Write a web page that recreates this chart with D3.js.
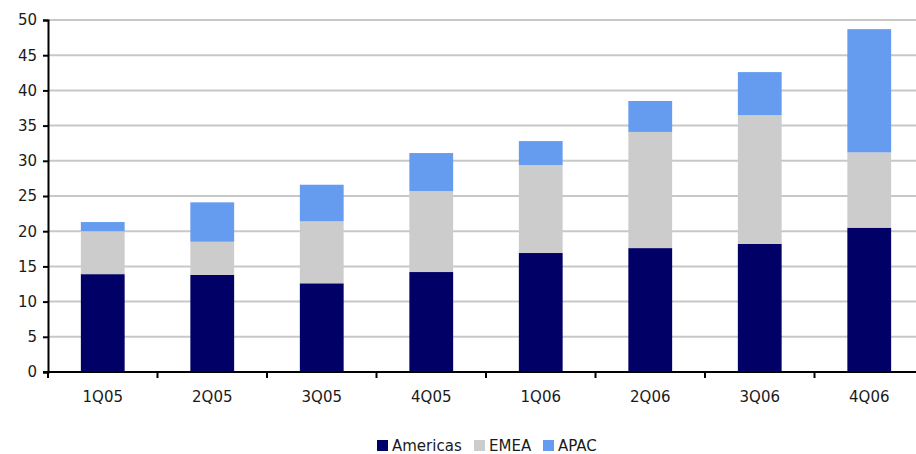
<!DOCTYPE html>
<html>
<head>
<meta charset="utf-8">
<script src="https://cdn.jsdelivr.net/npm/d3@7"></script>
<style>
  body { margin: 0; background: #fff; }
  svg { display: block; font-family: "DejaVu Sans", Verdana, sans-serif; }
</style>
</head>
<body>
<svg id="chart" width="916" height="454"></svg>
<script>
// Quarterly revenue by region (stacked)
const quarters = ["1Q05", "2Q05", "3Q05", "4Q05", "1Q06", "2Q06", "3Q06", "4Q06"];
const americas = [13.9, 13.8, 12.6, 14.2, 16.9, 17.6, 18.2, 20.5];
const emea     = [6.1, 4.7, 8.8, 11.5, 12.5, 16.5, 18.3, 10.7];
const apac     = [1.3, 5.6, 5.2, 5.4, 3.4, 4.4, 6.1, 17.5];
const seriesNames = ["Americas", "EMEA", "APAC"];
const seriesColors = ["#000066", "#cccccc", "#659cef"];
const yTicks = [0, 5, 10, 15, 20, 25, 30, 35, 40, 45, 50];

const rows = quarters.map((q, i) => ({ q, Americas: americas[i], EMEA: emea[i], APAC: apac[i] }));
const stacked = d3.stack().keys(seriesNames)(rows);

const svg = d3.select("#chart");
const margin = { left: 48, top: 20, right: 924, bottom: 372 };
const fontSize = 15;
const textColor = "#1a1a1a";

const x = d3.scaleBand().domain(quarters).range([margin.left, margin.right]).paddingInner(0.6).paddingOuter(0.3);
const y = d3.scaleLinear().domain([0, 50]).range([margin.bottom, margin.top]);

// gridlines
svg.append("g").selectAll("line").data(yTicks.filter(t => t > 0)).join("line")
  .attr("x1", margin.left).attr("x2", margin.right)
  .attr("y1", d => y(d)).attr("y2", d => y(d))
  .attr("stroke", "#c8c8c8").attr("stroke-width", 2);

// bars
const color = d3.scaleOrdinal().domain(seriesNames).range(seriesColors);
svg.append("g").selectAll("g").data(stacked).join("g")
  .attr("fill", d => color(d.key))
  .selectAll("rect").data(d => d).join("rect")
  .attr("x", d => x(d.data.q))
  .attr("width", x.bandwidth())
  .attr("y", d => y(d[1]))
  .attr("height", d => y(d[0]) - y(d[1]));

// y axis
const yAxis = svg.append("g").attr("transform", `translate(${margin.left},0)`)
  .call(d3.axisLeft(y).tickValues(yTicks).tickSize(5).tickPadding(6));
yAxis.select(".domain").attr("stroke", "#000").attr("stroke-width", 2);
yAxis.selectAll(".tick line").attr("stroke", "#000").attr("stroke-width", 2);
yAxis.selectAll("text").attr("font-size", fontSize).attr("fill", textColor)
  .attr("font-family", "DejaVu Sans, Verdana, sans-serif");

// x axis with ticks at category boundaries
const xAxisG = svg.append("g").attr("transform", `translate(0,${margin.bottom})`);
xAxisG.append("line").attr("x1", margin.left - 5).attr("x2", margin.right)
  .attr("stroke", "#000").attr("stroke-width", 2);
const boundaries = d3.range(quarters.length + 1)
  .map(i => margin.left + i * (margin.right - margin.left) / quarters.length);
xAxisG.selectAll("line.tk").data(boundaries).join("line").attr("class", "tk")
  .attr("x1", d => d).attr("x2", d => d).attr("y1", 0).attr("y2", 6)
  .attr("stroke", "#000").attr("stroke-width", 2);
xAxisG.selectAll("text").data(quarters).join("text")
  .attr("x", d => x(d) + x.bandwidth() / 2).attr("y", 30)
  .attr("text-anchor", "middle").attr("font-size", fontSize).attr("fill", textColor)
  .text(d => d);

// legend
const legendItems = [
  { name: "Americas", x: 377 },
  { name: "EMEA", x: 474 },
  { name: "APAC", x: 543 }
];
const lg = svg.append("g");
legendItems.forEach((it, i) => {
  lg.append("rect").attr("x", it.x).attr("y", 440).attr("width", 11).attr("height", 11).attr("fill", seriesColors[i]);
  lg.append("text").attr("x", it.x + 15).attr("y", 451).attr("font-size", fontSize).attr("fill", textColor).text(it.name);
});
</script>
</body>
</html>
